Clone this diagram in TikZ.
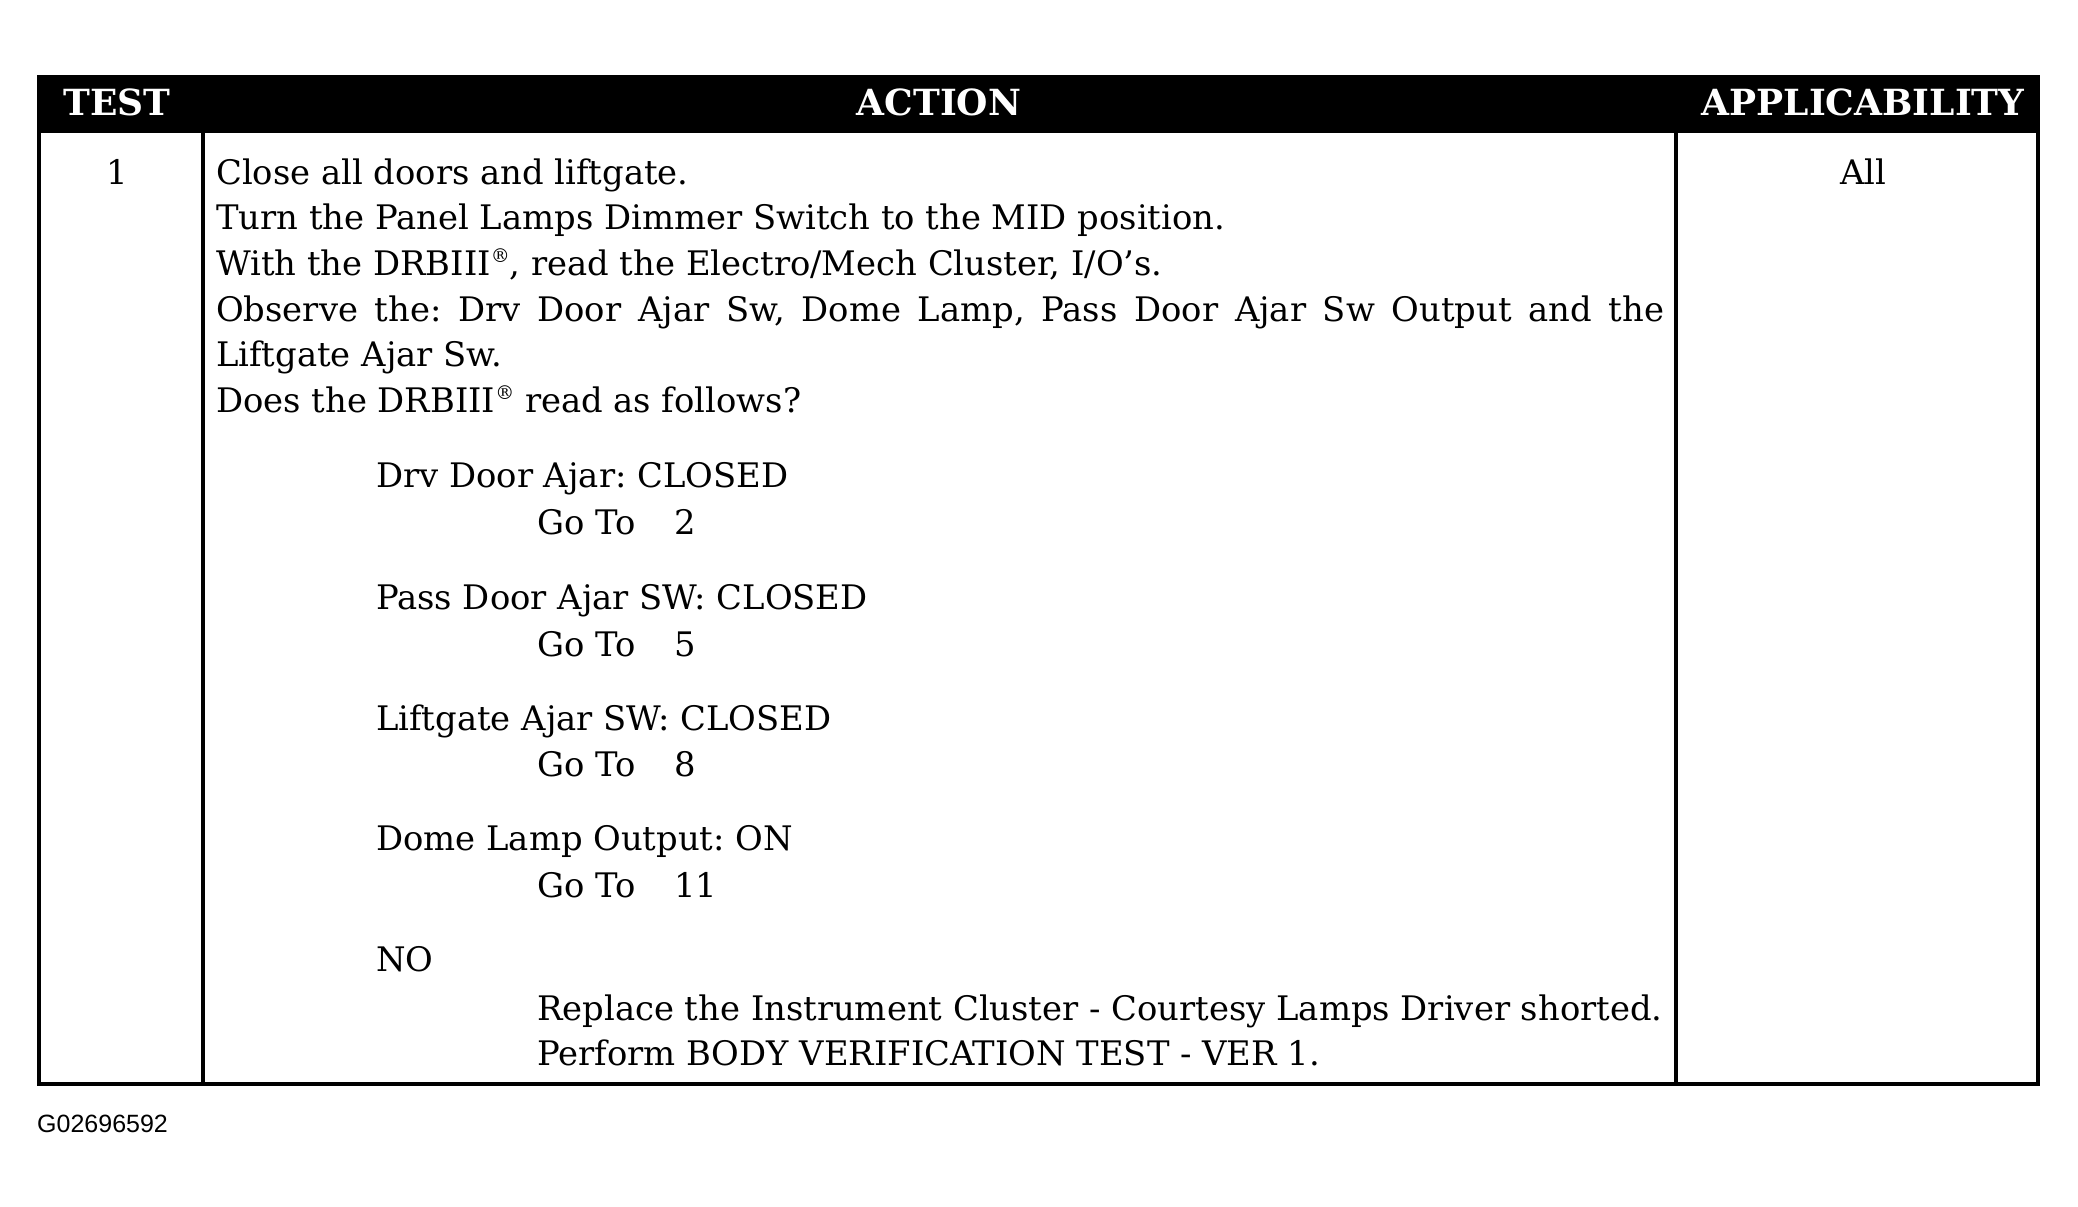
\documentclass[tikz,border=0pt]{standalone}
\usepackage{fontspec}
\setmainfont{DejaVu Serif}
\setsansfont{Liberation Sans}
\frenchspacing
\newcommand\myBody{\fontsize{33.8}{40}\selectfont}
\newcommand\myHdr{\fontsize{36}{40}\selectfont\bfseries}
\newcommand\myReg{\raisebox{0.36em}{\fontsize{19}{19}\selectfont ®}}
\newcommand\myGoTo[1]{\makebox[137pt][l]{Go To}#1}
\begin{document}
\begin{tikzpicture}[x=1pt,y=-1pt,
  body/.style={anchor=base west, inner sep=0pt, font=\myBody},
  cbody/.style={anchor=base, inner sep=0pt, font=\myBody},
  hdr/.style={anchor=base, inner sep=0pt, text=white, font=\myHdr},
  frame/.style={line width=4pt},
  colline/.style={line width=3.5pt}]
\useasboundingbox[fill=white] (0,0) rectangle (2078,1207);
% header bar
\fill[black] (37,75) rectangle (2040,133);
% frame and column lines
\draw[frame] (39,77) rectangle (2038,1084);
\coordinate (c1t) at (203,133);
\coordinate (c1b) at (203,1084);
\coordinate (c2t) at (1676,133);
\coordinate (c2b) at (1676,1084);
\draw[colline] (c1t) -- (c1b);
\draw[colline] (c2t) -- (c2b);
% header texts
\node[hdr] (hTest) at (117,115) {TEST};
\node[hdr] (hAction) at (939,115) {ACTION};
\node[hdr] (hAppl) at (1863,115) {APPLICABILITY};
% test number and applicability
\node[cbody] (num) at (117,184) {1};
\node[cbody] (all) at (1863,184) {All};
% action text
\node[body] (l1) at (216,184) {Close all doors and liftgate.};
\node[body] (l2) at (216,229.5) {Turn the Panel Lamps Dimmer Switch to the MID position.};
\node[body] (l3) at (216,275) {With the DRBIII\myReg, read the Electro/Mech Cluster, I/O’s.};
\node[body] (l4) at (216,321) {\makebox[1448pt][s]{Observe the: Drv Door Ajar Sw, Dome Lamp, Pass Door Ajar Sw Output and the}};
\node[body] (l5) at (216,366) {Liftgate Ajar Sw.};
\node[body] (l6) at (216,412) {Does the DRBIII\myReg\ read as follows?};
\node[body] (a1) at (376,487.6) {Drv Door Ajar: CLOSED};
\node[body] (g1) at (537,534) {\myGoTo{2}};
\node[body] (a2) at (376,609.5) {Pass Door Ajar SW: CLOSED};
\node[body] (g2) at (537,656) {\myGoTo{5}};
\node[body] (a3) at (376,730) {Liftgate Ajar SW: CLOSED};
\node[body] (g3) at (537,776.5) {\myGoTo{8}};
\node[body] (a4) at (376,850.6) {Dome Lamp Output: ON};
\node[body] (g4) at (537,897) {\myGoTo{11}};
\node[body] (no) at (376,971) {NO};
\node[body] (r1) at (537,1020) {Replace the Instrument Cluster - Courtesy Lamps Driver shorted.};
\node[body] (r2) at (537,1065) {Perform BODY VERIFICATION TEST - VER 1.};
% figure id
\node[anchor=base west, inner sep=0pt, font=\sffamily\fontsize{25}{25}\selectfont] (fig) at (37,1132) {G02696592};
\end{tikzpicture}
\end{document}
